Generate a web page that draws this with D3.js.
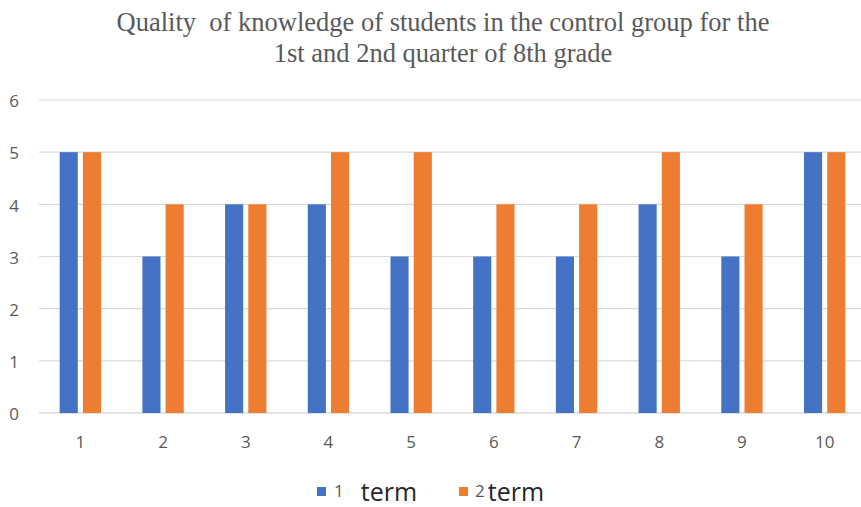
<!DOCTYPE html>
<html>
<head>
<meta charset="utf-8">
<script src="https://cdn.jsdelivr.net/npm/d3@7"></script>
<style>
  html, body { margin: 0; padding: 0; background: #fff; }
  svg { display: block; }
</style>
</head>
<body>
<svg id="chart" width="861" height="507"></svg>
<script>
// Students (categories) and their grades for each term
const students = ["1", "2", "3", "4", "5", "6", "7", "8", "9", "10"];
const term1 = [5, 3, 4, 4, 3, 3, 3, 4, 3, 5];
const term2 = [5, 4, 4, 5, 5, 4, 4, 5, 4, 5];
const seriesNames = ["1", "2"];
const yTicks = [0, 1, 2, 3, 4, 5, 6];
const titleLines = [
  "Quality  of knowledge of students in the control group for the",
  "1st and 2nd quarter of 8th grade"
];

const colors = ["#4472C4", "#ED7D31"];
const series = [term1, term2];

const svg = d3.select("#chart");
const plot = { left: 39, right: 866, top: 100, bottom: 413 };
const tickFont = "'Open Sans', sans-serif";

const x0 = d3.scaleBand()
  .domain(students)
  .range([plot.left, plot.right])
  .paddingInner(0.5)
  .paddingOuter(0.25);

const x1 = d3.scaleBand()
  .domain(seriesNames)
  .range([0, x0.bandwidth()])
  .paddingInner(0.22);

const y = d3.scaleLinear()
  .domain([0, 6])
  .range([plot.bottom, plot.top]);

// Horizontal gridlines
svg.append("g")
  .selectAll("line")
  .data(yTicks)
  .join("line")
  .attr("x1", plot.left)
  .attr("x2", plot.right)
  .attr("y1", d => y(d))
  .attr("y2", d => y(d))
  .attr("stroke", d => d === 0 ? "#c8c8c8" : "#d9d9d9")
  .attr("stroke-width", 1.2);

// Y axis labels
const yAxis = d3.axisLeft(y)
  .tickValues(yTicks)
  .tickFormat(d3.format("d"))
  .tickSize(0)
  .tickPadding(0);
svg.append("g")
  .attr("transform", `translate(${plot.left - 20},0)`)
  .call(yAxis)
  .call(g => g.select(".domain").remove())
  .call(g => g.selectAll("text")
    .attr("dy", "0.4em")
    .attr("font-family", tickFont)
    .attr("font-size", 17)
    .attr("fill", "#595959"));

// X axis labels
const xAxis = d3.axisBottom(x0).tickSize(0).tickPadding(0);
svg.append("g")
  .attr("transform", `translate(0,${plot.bottom})`)
  .call(xAxis)
  .call(g => g.select(".domain").remove())
  .call(g => g.selectAll("text")
    .attr("y", 35)
    .attr("dy", 0)
    .attr("font-family", tickFont)
    .attr("font-size", 17)
    .attr("fill", "#595959"));

// Grouped bars
const groups = svg.append("g")
  .selectAll("g")
  .data(students)
  .join("g")
  .attr("transform", d => `translate(${x0(d)},0)`);

groups.selectAll("rect")
  .data((d, i) => seriesNames.map((s, k) => ({ s, k, v: series[k][i] })))
  .join("rect")
  .attr("x", d => x1(d.s))
  .attr("width", x1.bandwidth())
  .attr("y", d => y(d.v))
  .attr("height", d => y(0) - y(d.v))
  .attr("fill", d => colors[d.k]);

// Title
svg.append("g")
  .selectAll("text")
  .data(titleLines)
  .join("text")
  .attr("x", 443)
  .attr("y", (d, i) => 31 + i * 31)
  .attr("text-anchor", "middle")
  .attr("font-family", "'Liberation Serif', 'Times New Roman', serif")
  .attr("font-size", 26.5)
  .attr("fill", "#595959")
  .style("white-space", "pre")
  .text(d => d);

// Legend
const legend = svg.append("g");
const legendItems = [
  { x: 317, label: "1", gap: 17 },
  { x: 459, label: "2", gap: 3 }
];
legendItems.forEach((it, k) => {
  const g = legend.append("g").attr("transform", `translate(${it.x},0)`);
  g.append("rect")
    .attr("x", 0).attr("y", 487)
    .attr("width", 9).attr("height", 9)
    .attr("fill", colors[k]);
  const t = g.append("text")
    .attr("x", k === 0 ? 17 : 16).attr("y", 497)
    .attr("font-family", tickFont);
  t.append("tspan")
    .attr("font-size", 17)
    .attr("fill", "#595959")
    .text(it.label);
  t.append("tspan")
    .attr("dx", it.gap)
    .attr("dy", 4)
    .attr("font-size", 25)
    .attr("fill", "#262626")
    .text("term");
});
</script>
</body>
</html>
